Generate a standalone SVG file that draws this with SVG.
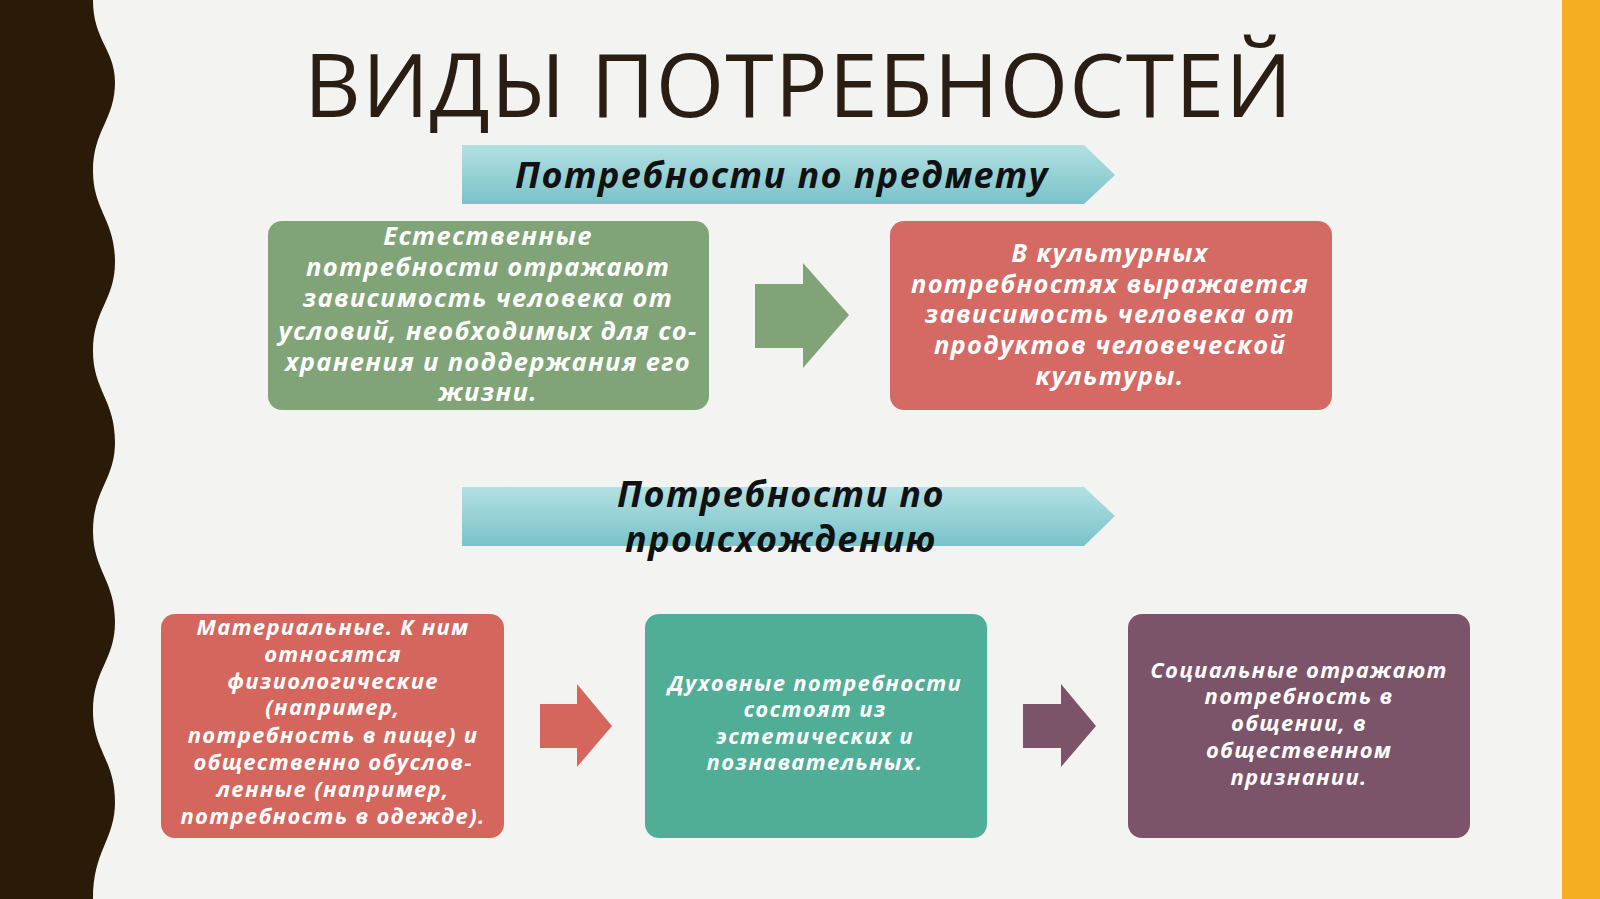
<svg xmlns="http://www.w3.org/2000/svg" width="1600" height="899" viewBox="0 0 1600 899">
<style>
.t{font-family:"Open Sans","Liberation Sans",sans-serif;font-weight:700;font-style:italic;fill:#fff;text-anchor:middle}
.b{font-size:25.5px;letter-spacing:1.3px}.s{font-size:22px;letter-spacing:1.3px}
.h{font-family:"Open Sans","Liberation Sans",sans-serif;font-weight:700;font-style:italic;fill:#111;font-size:36px;letter-spacing:1.4px;text-anchor:middle}
</style>
<defs>
<linearGradient id="tg" x1="0" y1="0" x2="0" y2="1"><stop offset="0" stop-color="#b3e0e2"/><stop offset="1" stop-color="#79c3c9"/></linearGradient>
</defs>
<rect width="1600" height="899" fill="#f3f4f2"/>
<path d="M0 0 H93 C93 40 115 50 115 82 C115 120 93 130 93 171 C93 210 115 220 115 262 C115 300 93 310 93 351 C93 390 115 400 115 442 C115 480 93 490 93 531 C93 570 115 580 115 622 C115 660 93 670 93 711 C93 750 115 760 115 802 C115 840 93 850 93 899 H0 Z" fill="#2a1a08"/>
<rect x="1562" y="0" width="38" height="899" fill="#f5ae22"/>
<text x="799" y="117" font-family="'Open Sans','Liberation Sans',sans-serif" font-size="88" fill="#2a1e14" text-anchor="middle" textLength="990" letter-spacing="2">ВИДЫ ПОТРЕБНОСТЕЙ</text>
<g id="banner1"><path d="M462 145 H1084 L1115 175 L1084 204 H462 Z" fill="url(#tg)"/><text class="h" x="782" y="188">Потребности по предмету</text></g>
<g id="banner2"><path d="M462 487 H1084 L1115 516 L1084 546 H462 Z" fill="url(#tg)"/><text class="h" x="781" y="507">Потребности по</text><text class="h" x="781" y="552">происхождению</text></g>
<g id="natural"><rect x="268" y="221" width="441" height="189" rx="14" fill="#80a477"/>
<text class="t b"><tspan x="488" y="245">Естественные</tspan><tspan x="488" y="276">потребности отражают</tspan><tspan x="488" y="307">зависимость человека от</tspan><tspan x="488" y="340">условий, необходимых для со-</tspan><tspan x="488" y="371">хранения и поддержания его</tspan><tspan x="488" y="401">жизни.</tspan></text></g>
<g id="cultural"><rect x="890" y="221" width="442" height="189" rx="14" fill="#d46a63"/>
<text class="t b"><tspan x="1110" y="262">В культурных</tspan><tspan x="1110" y="293">потребностях выражается</tspan><tspan x="1110" y="323">зависимость человека от</tspan><tspan x="1110" y="354">продуктов человеческой</tspan><tspan x="1110" y="385">культуры.</tspan></text></g>
<g id="material"><rect x="161" y="614" width="343" height="224" rx="14" fill="#d4665e"/>
<text class="t s"><tspan x="333" y="635">Материальные. К ним</tspan><tspan x="333" y="662">относятся</tspan><tspan x="333" y="689">физиологические</tspan><tspan x="333" y="715">(например,</tspan><tspan x="333" y="743">потребность в пище) и</tspan><tspan x="333" y="770">общественно обуслов-</tspan><tspan x="333" y="797">ленные (например,</tspan><tspan x="333" y="824">потребность в одежде).</tspan></text></g>
<g id="spiritual"><rect x="645" y="614" width="342" height="224" rx="14" fill="#50ad96"/>
<text class="t s"><tspan x="815" y="691">Духовные потребности</tspan><tspan x="815" y="717">состоят из</tspan><tspan x="815" y="744">эстетических и</tspan><tspan x="815" y="770">познавательных.</tspan></text></g>
<g id="social"><rect x="1128" y="614" width="342" height="224" rx="14" fill="#7b5469"/>
<text class="t s"><tspan x="1299" y="678">Социальные отражают</tspan><tspan x="1299" y="704">потребность в</tspan><tspan x="1299" y="731">общении, в</tspan><tspan x="1299" y="758">общественном</tspan><tspan x="1299" y="785">признании.</tspan></text></g>
<g id="connectors">
<path d="M755 284 H803 V263 L849 315 L803 368 V348 H755 Z" fill="#80a477"/>
<path d="M540 704 H577 V684 L612 726 L577 767 V748 H540 Z" fill="#d4665e"/>
<path d="M1023 704 H1061 V684 L1096 726 L1061 767 V748 H1023 Z" fill="#7b5469"/>
</g>
</svg>
